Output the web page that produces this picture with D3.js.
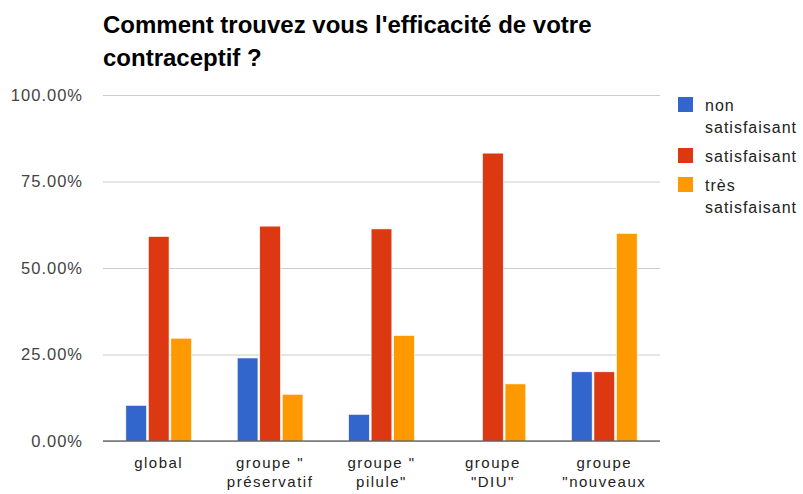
<!DOCTYPE html>
<html>
<head>
<meta charset="utf-8">
<script src="https://cdnjs.cloudflare.com/ajax/libs/d3/7.8.5/d3.min.js"></script>
<style>
  body { margin: 0; background: #fff; }
  svg { font-family: "Liberation Sans", Arial, sans-serif; }
</style>
</head>
<body>
<svg width="803" height="494"></svg>
<script>
// data
const categories = ['global', 'groupe " préservatif', 'groupe " pilule"', 'groupe "DIU"', 'groupe "nouveaux'];
const categoryLines = [['global'], ['groupe "', 'préservatif'], ['groupe "', 'pilule"'], ['groupe', '"DIU"'], ['groupe', '"nouveaux']];
const seriesNames = ['non satisfaisant', 'satisfaisant', 'très satisfaisant'];
const legendLines = [['non', 'satisfaisant'], ['satisfaisant'], ['très', 'satisfaisant']];
const colors = ['#3366cc', '#dc3912', '#ff9900'];
const nonSatisfaisant = [10.3, 24.0, 7.7, 0, 20.0];
const satisfaisant = [59.1, 62.1, 61.3, 83.2, 20.0];
const tresSatisfaisant = [29.7, 13.5, 30.5, 16.5, 60.0];
const yTicks = [0, 25, 50, 75, 100];

const values = [nonSatisfaisant, satisfaisant, tresSatisfaisant];

const svg = d3.select('svg');
const plotLeft = 103, plotRight = 660, plotTop = 95, plotBottom = 441;

// title
svg.append('text')
    .attr('x', 103).attr('y', 33)
    .attr('font-size', 24).attr('font-weight', 'bold').attr('fill', '#000')
    .text("Comment trouvez vous l'efficacité de votre");
svg.append('text')
    .attr('x', 103).attr('y', 66)
    .attr('font-size', 24).attr('font-weight', 'bold').attr('fill', '#000')
    .text('contraceptif ?');

const x0 = d3.scaleBand()
    .domain(categories)
    .range([plotLeft, plotRight])
    .paddingInner(0.41)
    .paddingOuter(0.205);

const x1 = d3.scaleBand()
    .domain(seriesNames)
    .range([0, x0.bandwidth()])
    .paddingInner(0.08);

const y = d3.scaleLinear()
    .domain([0, 100])
    .range([plotBottom, plotTop]);

// gridlines + y labels
const yAxis = svg.append('g')
    .attr('transform', `translate(${plotLeft},0)`)
    .call(d3.axisLeft(y).tickValues(yTicks).tickSize(-(plotRight - plotLeft)).tickPadding(20)
        .tickFormat(d => d.toFixed(2) + '%'));
yAxis.select('.domain').remove();
yAxis.selectAll('line').attr('stroke', '#ccc');
yAxis.selectAll('text').attr('font-size', 16.5).attr('fill', '#444')
    .attr('letter-spacing', 1)
    .attr('font-family', '"Liberation Sans", Arial, sans-serif');

// bars
const groups = svg.selectAll('.grp')
    .data(categories)
    .enter()
    .append('g')
    .classed('grp', true)
    .attr('transform', c => `translate(${x0(c)},0)`);

groups.selectAll('rect')
    .data((c, i) => seriesNames.map((s, j) => ({ s: s, j: j, v: values[j][i] })))
    .enter()
    .append('rect')
    .attr('x', d => x1(d.s))
    .attr('y', d => y(d.v))
    .attr('width', x1.bandwidth())
    .attr('height', d => plotBottom - y(d.v))
    .attr('fill', d => colors[d.j])
    .attr('stroke', '#fff')
    .attr('stroke-width', 0.6);

// baseline
svg.append('line')
    .attr('x1', plotLeft).attr('x2', plotRight)
    .attr('y1', y(0)).attr('y2', y(0))
    .attr('stroke', '#333').attr('stroke-width', 1.2);

// x labels
categories.forEach((c, i) => {
    const cx = x0(c) + x0.bandwidth() / 2;
    const t = svg.append('text')
        .attr('x', cx)
        .attr('y', 468)
        .attr('text-anchor', 'middle')
        .attr('font-size', 15).attr('fill', '#222')
        .attr('letter-spacing', 1.5);
    categoryLines[i].forEach((line, k) => {
        t.append('tspan')
            .attr('x', cx)
            .attr('dy', k === 0 ? 0 : 19)
            .text(line);
    });
});

// legend
const legendY = [97, 148, 177];
seriesNames.forEach((s, j) => {
    svg.append('rect')
        .attr('x', 678).attr('y', legendY[j])
        .attr('width', 15).attr('height', 15)
        .attr('fill', colors[j]);
    const t = svg.append('text')
        .attr('x', 705).attr('y', legendY[j] + 14)
        .attr('font-size', 16).attr('fill', '#222')
        .attr('letter-spacing', 1);
    legendLines[j].forEach((line, k) => {
        t.append('tspan')
            .attr('x', 705)
            .attr('dy', k === 0 ? 0 : 22)
            .text(line);
    });
});
</script>
</body>
</html>
